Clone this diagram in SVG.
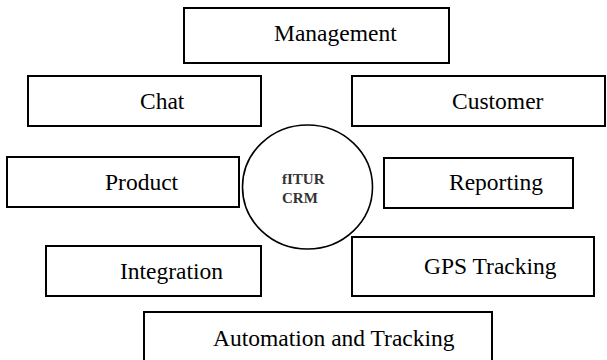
<svg xmlns="http://www.w3.org/2000/svg" width="607" height="360" viewBox="0 0 607 360">
<style>
.box{fill:#fff;stroke:#000;stroke-width:2}
.lbl{font-size:23.5px;fill:#000}
.hub{fill:#fff;stroke:#000;stroke-width:1.6}
.hubt{font-size:15px;font-weight:bold;fill:#333}
</style>
<rect width="607" height="360" fill="#fff"/>
<g id="connectors"></g>
<g font-family="'Liberation Serif', 'DejaVu Serif', 'Times New Roman', serif">
<g id="management"><rect class="box" x="184" y="8" width="265" height="55"/><text class="lbl" x="274" y="40.5">Management</text></g>
<g id="chat"><rect class="box" x="28" y="76" width="233" height="50"/><text class="lbl" x="140" y="109">Chat</text></g>
<g id="customer"><rect class="box" x="352" y="76" width="253" height="50"/><text class="lbl" x="452" y="109">Customer</text></g>
<g id="product"><rect class="box" x="7" y="157" width="232" height="50"/><text class="lbl" x="105" y="190">Product</text></g>
<g id="reporting"><rect class="box" x="384" y="158" width="189" height="50"/><text class="lbl" x="449" y="190">Reporting</text></g>
<g id="hub"><ellipse class="hub" cx="307.5" cy="187" rx="65" ry="62"/><text class="hubt" x="282" y="184">fITUR</text><text class="hubt" x="282" y="203">CRM</text></g>
<g id="integration"><rect class="box" x="46" y="246" width="215" height="50"/><text class="lbl" x="120" y="279">Integration</text></g>
<g id="gps"><rect class="box" x="352" y="237" width="242" height="59"/><text class="lbl" x="424" y="274">GPS Tracking</text></g>
<g id="automation"><rect class="box" x="144" y="312" width="348" height="60"/><text class="lbl" x="213" y="346">Automation and Tracking</text></g>
</g>
</svg>
